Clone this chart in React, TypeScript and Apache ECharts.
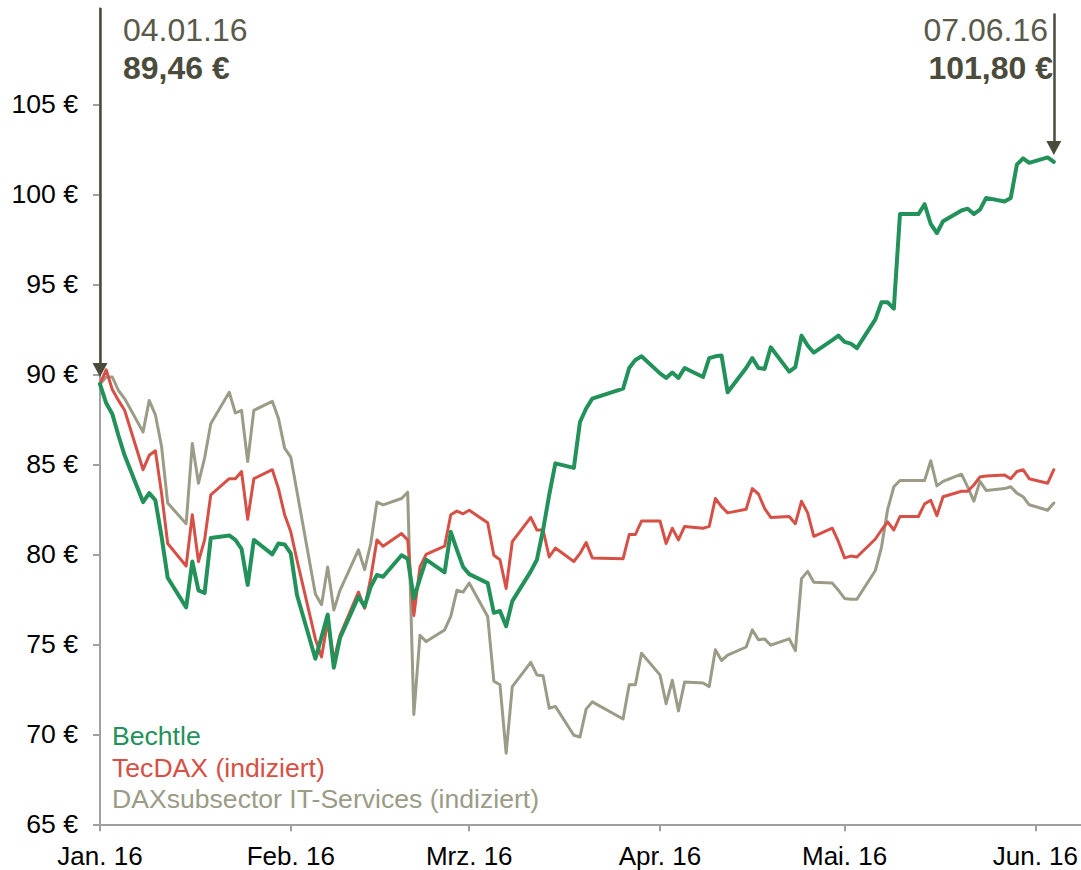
import React, { useEffect, useRef } from "react";
import * as echarts from "echarts";

const FONT = '"Liberation Sans", Arial, Helvetica, sans-serif';
const GREEN = "#23915a";
const RED = "#d65046";
const GRAY = "#9b9b87";
const DARK = "#4b4b3c";
const DATE_COLOR = "#5a5a4b";

// trading days (Xetra), 2016
const daysJan = [4, 5, 6, 7, 8, 11, 12, 13, 14, 15, 18, 19, 20, 21, 22, 25, 26, 27, 28, 29];
const daysFeb = [1, 2, 3, 4, 5, 8, 9, 10, 11, 12, 15, 16, 17, 18, 19, 22, 23, 24, 25, 26, 29];
const daysMar = [1, 2, 3, 4, 7, 8, 9, 10, 11, 14, 15, 16, 17, 18, 21, 22, 23, 24, 29, 30, 31];
const daysApr = [1, 4, 5, 6, 7, 8, 11, 12, 13, 14, 15, 18, 19, 20, 21, 22, 25, 26, 27, 28, 29];
const daysMay = [2, 3, 4, 5, 6, 9, 10, 11, 12, 13, 16, 17, 18, 19, 20, 23, 24, 25, 26, 27, 30, 31];
const daysJun = [1, 2, 3, 6, 7];

const bechtle = [
  89.46, 88.4, 87.8, 86.6, 85.5, 82.9, 83.4, 83.0, 81.0, 78.7, 77.05, 79.6, 78.0, 77.85, 80.9, 81.05, 80.8, 80.3, 78.3, 80.8,
  80.0, 80.6, 80.55, 80.05, 77.75, 74.2, 75.4, 76.65, 73.7, 75.35, 77.65, 77.1, 78.2, 78.85, 78.75, 79.95, 79.75, 77.55, 78.65, 79.7, 79.0,
  81.25, 80.25, 79.3, 78.9, 78.4, 76.75, 76.85, 76.0, 77.4, 79.05, 79.7, 81.35, 83.3, 85.05, 84.8, 87.35, 88.1, 88.65, 89.2, 90.35, 90.8,
  91.0, 90.05, 89.8, 90.1, 89.8, 90.35, 89.85, 90.9, 91.0, 91.05, 89.0, 90.35, 90.9, 90.35, 90.3, 91.5, 90.15, 90.4, 92.15, 91.6, 91.2,
  91.9, 92.15, 91.8, 91.7, 91.45, 93.05, 94.0, 94.0, 93.65, 98.9, 98.9, 99.45, 98.35, 97.85, 98.5, 99.1, 99.2, 98.9, 99.15, 99.8, 99.6, 99.8,
  101.65, 102.0, 101.75, 102.05, 101.8,
];

const tecdax = [
  89.46, 90.25, 89.15, 88.55, 88.0, 84.7, 85.5, 85.75, 83.4, 80.6, 79.35, 82.2, 79.6, 80.8, 83.3, 84.2, 84.2, 84.6, 81.95, 84.2,
  84.7, 83.65, 82.2, 81.25, 79.7, 75.3, 74.3, 76.3, 74.1, 75.5, 77.9, 77.0, 78.7, 80.8, 80.45, 81.15, 80.8, 76.6, 79.3, 80.0, 80.45,
  82.2, 82.4, 82.25, 82.45, 81.75, 79.95, 79.7, 78.1, 80.7, 82.05, 81.35, 81.35, 79.85, 80.35, 79.6, 80.05, 80.65, 79.8, 79.75, 81.1, 81.1,
  81.85, 81.85, 80.6, 81.45, 80.8, 81.55, 81.45, 81.55, 83.1, 82.65, 82.3, 82.5, 83.65, 83.35, 82.55, 82.05, 82.1, 81.7, 82.95, 82.3, 81.0,
  81.45, 80.7, 79.8, 79.9, 79.85, 80.85, 81.35, 81.8, 81.35, 82.1, 82.1, 82.8, 83.0, 82.15, 83.2, 83.5, 83.5, 83.85, 84.3, 84.35, 84.4, 84.2,
  84.6, 84.7, 84.2, 83.95, 84.7,
];

const itServices = [
  89.46, 89.85, 89.85, 89.1, 88.65, 86.8, 88.55, 87.75, 86.0, 82.85, 81.7, 86.15, 83.95, 85.35, 87.25, 89.0, 87.85, 88.0, 85.15, 88.0,
  88.5, 87.55, 85.9, 85.4, 83.5, 77.8, 77.2, 79.3, 76.9, 78.0, 80.25, 79.15, 80.6, 82.9, 82.75, 83.1, 83.45, 71.1, 75.5, 75.15, 75.8,
  76.55, 78.0, 77.9, 78.4, 76.55, 72.95, 72.75, 68.95, 72.65, 74.0, 73.3, 73.25, 71.45, 71.55, 69.95, 69.85, 71.4, 71.8, 70.85, 72.75, 72.75,
  74.5, 73.3, 71.7, 73.0, 71.3, 72.9, 72.85, 72.65, 74.7, 74.1, 74.4, 74.85, 75.8, 75.25, 75.3, 74.95, 75.3, 74.65, 78.65, 79.05, 78.45,
  78.4, 78.0, 77.55, 77.5, 77.5, 79.1, 80.4, 82.5, 83.75, 84.1, 84.1, 84.1, 85.2, 83.8, 84.05, 84.45, 83.75, 82.95, 84.05, 83.55, 83.65, 83.75,
  83.4, 83.2, 82.75, 82.45, 82.85,
];

const seriesNames = ["Bechtle", "TecDAX (indiziert)", "DAXsubsector IT-Services (indiziert)"];
const monthLabels = ["Jan. 16", "Feb. 16", "Mrz. 16", "Apr. 16", "Mai. 16", "Jun. 16"];
const yTickValues = [65, 70, 75, 80, 85, 90, 95, 100, 105];

const startLabel = { date: "04.01.16", value: "89,46 €" };
const endLabel = { date: "07.06.16", value: "101,80 €" };

const DAY = 86400000;
const monthDays = [daysJan, daysFeb, daysMar, daysApr, daysMay, daysJun];
const dates: number[] = [];
monthDays.forEach((days, m) => days.forEach((d) => dates.push(Date.UTC(2016, m, d))));
const X_MIN = dates[0];
const X_MAX = dates[0] + 159.4 * DAY;
// Excel-style monthly major ticks, counted from the first data day (4th of each month)
const xTickValues = monthLabels.map((_, m) => Date.UTC(2016, m, 4));

const toPairs = (vals: number[]) => vals.map((v, i) => [dates[i], v]);

export default function App() {
  const ref = useRef<HTMLDivElement>(null);
  useEffect(() => {
    document.body.style.margin = "0";
    if (!ref.current) return;
    const chart = echarts.init(ref.current, undefined, { renderer: "svg" });
    const last = dates[dates.length - 1];
    const option: any = {
      animation: false,
      textStyle: { fontFamily: FONT },
      grid: { left: 100, right: 0, top: 8, bottom: 45.7, containLabel: false },
      legend: {
        show: true,
        orient: "vertical",
        left: 102,
        top: 716,
        icon: "rect",
        itemWidth: 0,
        itemHeight: 0,
        itemGap: 1.5,
        selectedMode: false,
        textStyle: { fontSize: 26.6, lineHeight: 30, fontFamily: FONT },
        data: [
          { name: seriesNames[0], textStyle: { color: GREEN } },
          { name: seriesNames[1], textStyle: { color: RED } },
          { name: seriesNames[2], textStyle: { color: GRAY } },
        ],
      },
      xAxis: {
        type: "value",
        min: X_MIN,
        max: X_MAX,
        axisLine: { show: true, lineStyle: { color: "#a0a0a0", width: 2 } },
        axisTick: { show: true, length: 7, lineStyle: { color: "#a0a0a0", width: 2 }, customValues: xTickValues },
        axisLabel: {
          customValues: xTickValues,
          formatter: (v: number) => monthLabels[new Date(v).getUTCMonth()] ?? "",
          fontSize: 26,
          color: "#000",
          margin: 19,
          fontFamily: FONT,
        },
        splitLine: { show: false },
      },
      yAxis: {
        type: "value",
        min: 65,
        max: 110.35,
        axisLine: { show: true, lineStyle: { color: "#a0a0a0", width: 2 } },
        axisTick: { show: true, length: 7, lineStyle: { color: "#a0a0a0", width: 2 }, customValues: yTickValues },
        axisLabel: {
          customValues: yTickValues,
          formatter: (v: number) => `${v} €`,
          fontSize: 26.6,
          color: "#000",
          margin: 22,
          fontFamily: FONT,
        },
        splitLine: { show: false },
      },
      series: [
        {
          name: seriesNames[0],
          type: "line",
          data: toPairs(bechtle),
          symbol: "none",
          clip: false,
          z: 4,
          itemStyle: { color: GREEN },
          lineStyle: { color: GREEN, width: 4, join: "round", cap: "round" },
          markLine: {
            silent: true,
            symbol: ["none", "triangle"],
            symbolSize: [15, 14],
            label: { show: false },
            itemStyle: { color: DARK },
            lineStyle: { color: DARK, width: 2.5, type: "solid" },
            data: [
              [{ coord: [dates[0], 110.35] }, { coord: [dates[0], 90.24] }],
              [{ coord: [last, 110.05] }, { coord: [last, 102.57] }],
            ],
          },
        },
        {
          name: seriesNames[1],
          type: "line",
          data: toPairs(tecdax),
          symbol: "none",
          clip: false,
          z: 3,
          itemStyle: { color: RED },
          lineStyle: { color: RED, width: 3, join: "round", cap: "round" },
        },
        {
          name: seriesNames[2],
          type: "line",
          data: toPairs(itServices),
          symbol: "none",
          clip: false,
          z: 2,
          itemStyle: { color: GRAY },
          lineStyle: { color: GRAY, width: 3, join: "round", cap: "round" },
        },
      ],
      graphic: [
        {
          type: "text",
          x: 123,
          y: 30,
          style: { text: startLabel.date, fontSize: 32, fontFamily: FONT, fill: DATE_COLOR, align: "left", verticalAlign: "middle" },
        },
        {
          type: "text",
          x: 123,
          y: 67.5,
          style: { text: startLabel.value, fontSize: 32, fontWeight: "bold", fontFamily: FONT, fill: DARK, align: "left", verticalAlign: "middle" },
        },
        {
          type: "text",
          x: 1048,
          y: 30,
          style: { text: endLabel.date, fontSize: 32, fontFamily: FONT, fill: DATE_COLOR, align: "right", verticalAlign: "middle" },
        },
        {
          type: "text",
          x: 1053,
          y: 67.5,
          style: { text: endLabel.value, fontSize: 32, fontWeight: "bold", fontFamily: FONT, fill: DARK, align: "right", verticalAlign: "middle" },
        },
      ],
    };
    chart.setOption(option);
    return () => chart.dispose();
  }, []);
  return <div ref={ref} style={{ width: 1081, height: 870 }} />;
}
